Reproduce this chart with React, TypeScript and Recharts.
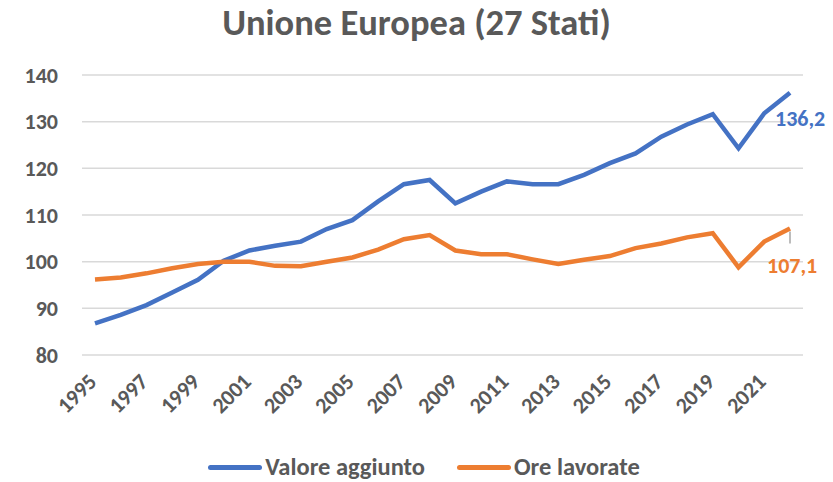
import { LineChart, Line, XAxis, YAxis, CartesianGrid, Legend, LabelList } from "recharts";

const years = [
  "1995", "1996", "1997", "1998", "1999", "2000", "2001", "2002", "2003", "2004",
  "2005", "2006", "2007", "2008", "2009", "2010", "2011", "2012", "2013", "2014",
  "2015", "2016", "2017", "2018", "2019", "2020", "2021", "2022"
];

const valoreAggiunto = [
  86.8, 88.6, 90.7, 93.4, 96.1, 100.2, 102.4, 103.4, 104.3, 107.0,
  108.9, 112.9, 116.6, 117.5, 112.5, 115.0, 117.2, 116.6, 116.6, 118.6,
  121.1, 123.2, 126.8, 129.4, 131.6, 124.3, 131.8, 136.2
];

const oreLavorate = [
  96.2, 96.6, 97.5, 98.6, 99.5, 100.0, 100.0, 99.1, 99.0, 100.0,
  100.9, 102.6, 104.8, 105.7, 102.4, 101.6, 101.6, 100.5, 99.5, 100.4,
  101.2, 102.9, 103.9, 105.2, 106.1, 98.8, 104.3, 107.1
];

const yTicks = [80, 90, 100, 110, 120, 130, 140];

const data = years.map((y, i) => ({ year: y, va: valoreAggiunto[i], ore: oreLavorate[i] }));

const FONT = "Carlito, Lato, sans-serif";
const GREY = "#595959";
const BLUE = "#4472C4";
const ORANGE = "#ED7D31";
const last = years.length - 1;

const fmt = (v: number) => v.toFixed(1).replace(".", ",");

function XTick(props: any) {
  const { x, y, payload } = props;
  const ax = x + 3;
  const ay = y + 20;
  return (
    <text
      x={ax}
      y={ay}
      transform={`rotate(-45, ${ax}, ${ay})`}
      textAnchor="end"
      fill={GREY}
      fontSize={22}
      fontWeight={700}
      fontFamily={FONT}
    >
      {payload.value}
    </text>
  );
}

function BlueLabel(props: any) {
  const { x, y, index, value } = props;
  if (index !== last) return null;
  return (
    <text x={x - 15} y={y + 33} fill={BLUE} fontSize={22} fontWeight={700} fontFamily={FONT}>
      {fmt(value)}
    </text>
  );
}

function OrangeLabel(props: any) {
  const { x, y, index, value } = props;
  if (index !== last) return null;
  return (
    <g>
      <line x1={x} y1={y + 3} x2={x} y2={y + 15} stroke="#a6a6a6" strokeWidth={1.5} />
      <text x={x - 23} y={y + 44} fill={ORANGE} fontSize={22} fontWeight={700} fontFamily={FONT}>
        {fmt(value)}
      </text>
    </g>
  );
}

function LegendBox() {
  const items = [
    { name: "Valore aggiunto", color: BLUE },
    { name: "Ore lavorate", color: ORANGE }
  ];
  return (
    <div
      style={{
        display: "flex",
        justifyContent: "center",
        alignItems: "center",
        gap: 32,
        height: 30,
        paddingLeft: 45,
        fontFamily: FONT
      }}
    >
      {items.map((it) => (
        <div key={it.name} style={{ display: "flex", alignItems: "center" }}>
          <span style={{ width: 54, height: 5, background: it.color, borderRadius: 3, marginRight: 3 }} />
          <span style={{ color: GREY, fontSize: 24.5, fontWeight: 700 }}>{it.name}</span>
        </div>
      ))}
    </div>
  );
}

export default function App() {
  return (
    <div style={{ position: "absolute", left: 0, top: 0, width: 833, height: 482, background: "#fff" }}>
      <div
        style={{
          position: "absolute",
          top: 0,
          width: 833,
          textAlign: "center",
          fontFamily: FONT,
          fontWeight: 700,
          fontSize: 36.5,
          color: GREY
        }}
      >
        Unione Europea (27 Stati)
      </div>
      <LineChart width={833} height={482} data={data} margin={{ top: 75, right: 30, bottom: 0, left: 0 }}>
        <CartesianGrid vertical={false} stroke="#d9d9d9" strokeWidth={1.5} />
        <XAxis
          dataKey="year"
          interval={1}
          axisLine={false}
          tickLine={false}
          tick={<XTick />}
          height={97}
          padding={{ left: 13, right: 13 }}
        />
        <YAxis
          domain={[80, 140]}
          ticks={yTicks}
          axisLine={false}
          tickLine={false}
          tickSize={0}
          tickMargin={24}
          width={82}
          tick={{ fill: GREY, fontSize: 22, fontWeight: 700, fontFamily: FONT }}
        />
        <Legend verticalAlign="bottom" height={30} content={<LegendBox />} />
        <Line dataKey="va" stroke={BLUE} strokeWidth={4.5} dot={false} isAnimationActive={false}>
          <LabelList dataKey="va" content={<BlueLabel />} />
        </Line>
        <Line dataKey="ore" stroke={ORANGE} strokeWidth={4.5} dot={false} isAnimationActive={false}>
          <LabelList dataKey="ore" content={<OrangeLabel />} />
        </Line>
      </LineChart>
    </div>
  );
}
